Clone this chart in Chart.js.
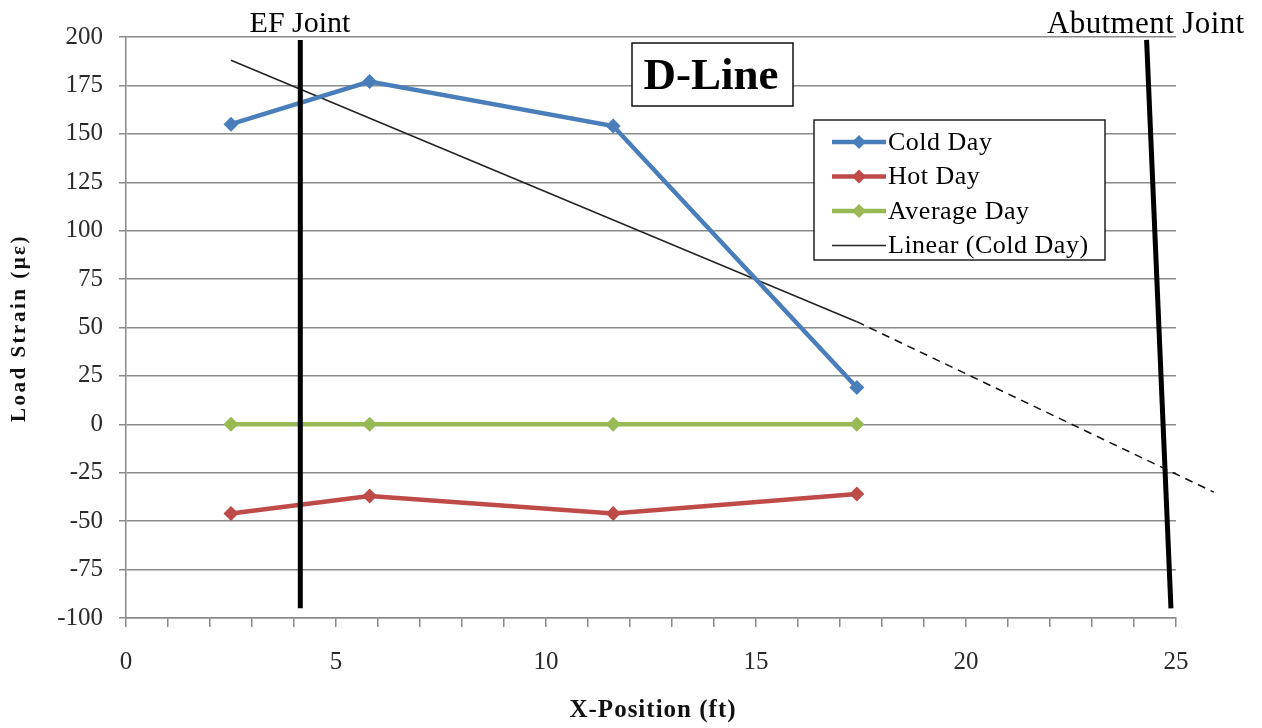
<!DOCTYPE html>
<html>
<head>
<meta charset="utf-8">
<script src="https://cdn.jsdelivr.net/npm/chart.js@4/dist/chart.umd.min.js"></script>
<style>
  html, body { margin: 0; padding: 0; background: #fff; }
</style>
</head>
<body>
<canvas id="strainChart" width="1262" height="728"></canvas>
<script>
// values
const xPosition = [2.5, 5.8, 11.6, 17.4];
const coldDay = [155, 177, 154, 19];
const hotDay = [-46, -37, -46, -36];
const averageDay = [0, 0, 0, 0];

// trend line (solid part) and its dashed forward part
const trendX = [2.5, 17.4];
const trendY = [188, 53];
const trendExtX = [17.4, 25.9];
const trendExtY = [53, -35];

// joint marker lines
const efJointX = [4.15, 4.15];
const efJointY = [198.5, -95];
const abutJointX = [24.3, 24.88];
const abutJointY = [198.5, -95];

const xMin = 0, xMax = 25, xStep = 1, xLabelEvery = 5;
const yMin = -100, yMax = 200, yStep = 25;

const legendItems = [
  { label: "Cold Day", color: "#4a7ebb", width: 4.5, marker: true },
  { label: "Hot Day", color: "#be4b48", width: 4.5, marker: true },
  { label: "Average Day", color: "#98b954", width: 4.5, marker: true },
  { label: "Linear (Cold Day)", color: "#222", width: 1.5, marker: false }
];

function pts(xs, ys) {
  return xs.map((x, i) => ({ x: x, y: ys[i] }));
}

function seriesSet(label, ys, color) {
  return {
    label: label,
    data: pts(xPosition, ys),
    showLine: true,
    borderColor: color,
    backgroundColor: color,
    borderWidth: 4.5,
    pointStyle: "rectRot",
    pointRadius: 7.5,
    pointBorderWidth: 0
  };
}

function plainLine(xs, ys, color, width, dash) {
  return {
    data: pts(xs, ys),
    showLine: true,
    borderColor: color,
    borderWidth: width,
    borderDash: dash || [],
    pointRadius: 0,
    clip: false
  };
}

const overlay = {
  id: "overlay",
  afterDraw(chart) {
    const ctx = chart.ctx;
    const area = chart.chartArea;
    ctx.save();

    // joint labels
    ctx.fillStyle = "#000";
    ctx.textBaseline = "alphabetic";
    ctx.font = "30px 'Liberation Serif'";
    ctx.textAlign = "center";
    ctx.fillText("EF Joint", 300, 32);
    ctx.textAlign = "left";
    ctx.font = "31px 'Liberation Serif'";
    ctx.letterSpacing = "0.4px";
    ctx.fillText("Abutment Joint", 1047, 33);
    ctx.letterSpacing = "0px";

    // axis titles
    ctx.fillStyle = "#111";
    ctx.textAlign = "center";
    ctx.textBaseline = "middle";
    ctx.font = "bold 25px 'Liberation Serif'";
    ctx.letterSpacing = "1px";
    ctx.fillText("X-Position (ft)", (area.left + area.right) / 2 + 2, 711);
    ctx.save();
    ctx.translate(20, 328);
    ctx.rotate(-Math.PI / 2);
    ctx.font = "bold 21px 'Liberation Serif'";
    ctx.letterSpacing = "2.5px";
    ctx.fillText("Load Strain (με)", 0, 0);
    ctx.restore();
    ctx.letterSpacing = "0px";

    // title box
    ctx.fillStyle = "#fff";
    ctx.fillRect(632, 43, 161, 63);
    ctx.strokeStyle = "#111";
    ctx.lineWidth = 1.5;
    ctx.strokeRect(632, 43, 161, 63);
    ctx.fillStyle = "#000";
    ctx.font = "bold 45px 'Liberation Serif'";
    ctx.textAlign = "center";
    ctx.textBaseline = "middle";
    ctx.fillText("D-Line", 711, 77);

    // legend
    const lx = 814, ly = 120, lw = 291, lh = 140;
    ctx.fillStyle = "#fff";
    ctx.fillRect(lx, ly, lw, lh);
    ctx.strokeStyle = "#222";
    ctx.lineWidth = 1.5;
    ctx.strokeRect(lx, ly, lw, lh);
    ctx.font = "26px 'Liberation Serif'";
    ctx.letterSpacing = "0.5px";
    ctx.textAlign = "left";
    ctx.textBaseline = "middle";
    legendItems.forEach((it, i) => {
      const cy = 142 + i * 34.5;
      ctx.strokeStyle = it.color;
      ctx.lineWidth = it.width;
      ctx.beginPath();
      ctx.moveTo(832, cy);
      ctx.lineTo(886, cy);
      ctx.stroke();
      if (it.marker) {
        ctx.fillStyle = it.color;
        ctx.beginPath();
        ctx.moveTo(859, cy - 7);
        ctx.lineTo(866, cy);
        ctx.lineTo(859, cy + 7);
        ctx.lineTo(852, cy);
        ctx.closePath();
        ctx.fill();
      }
      ctx.fillStyle = "#000";
      ctx.fillText(it.label, 888, cy + 1);
    });

    ctx.restore();
  }
};

new Chart(document.getElementById("strainChart"), {
  type: "scatter",
  data: {
    datasets: [
      plainLine(efJointX, efJointY, "#000", 5),
      plainLine(abutJointX, abutJointY, "#000", 5),
      seriesSet("Average Day", averageDay, "#98b954"),
      seriesSet("Hot Day", hotDay, "#be4b48"),
      seriesSet("Cold Day", coldDay, "#4a7ebb"),
      plainLine(trendX, trendY, "#222", 1.5),
      plainLine(trendExtX, trendExtY, "#111", 1.5, [8, 6])
    ]
  },
  options: {
    responsive: false,
    animation: false,
    devicePixelRatio: 1,
    layout: { padding: { left: 0, right: 86, top: 37, bottom: 0 } },
    plugins: {
      legend: { display: false },
      tooltip: { enabled: false }
    },
    scales: {
      x: {
        type: "linear",
        min: xMin,
        max: xMax,
        afterFit(scale) { scale.height = 110; },
        border: { color: "#8a8a8a", width: 1.5 },
        grid: { drawOnChartArea: false, color: "#8a8a8a", tickLength: 9, lineWidth: 1.5 },
        ticks: {
          stepSize: xStep,
          autoSkip: false,
          maxRotation: 0,
          padding: 20,
          color: "#2a2a2a",
          font: { family: "'Liberation Serif'", size: 25 },
          callback: (v) => (v % xLabelEvery === 0 ? v : "")
        }
      },
      y: {
        type: "linear",
        min: yMin,
        max: yMax,
        afterFit(scale) { scale.width = 126; },
        border: { color: "#8a8a8a", width: 1.5 },
        grid: { color: "#8a8a8a", tickLength: 7, lineWidth: 1.5 },
        ticks: {
          stepSize: yStep,
          padding: 16,
          color: "#2a2a2a",
          font: { family: "'Liberation Serif'", size: 25 }
        }
      }
    }
  },
  plugins: [overlay]
});
</script>
</body>
</html>
